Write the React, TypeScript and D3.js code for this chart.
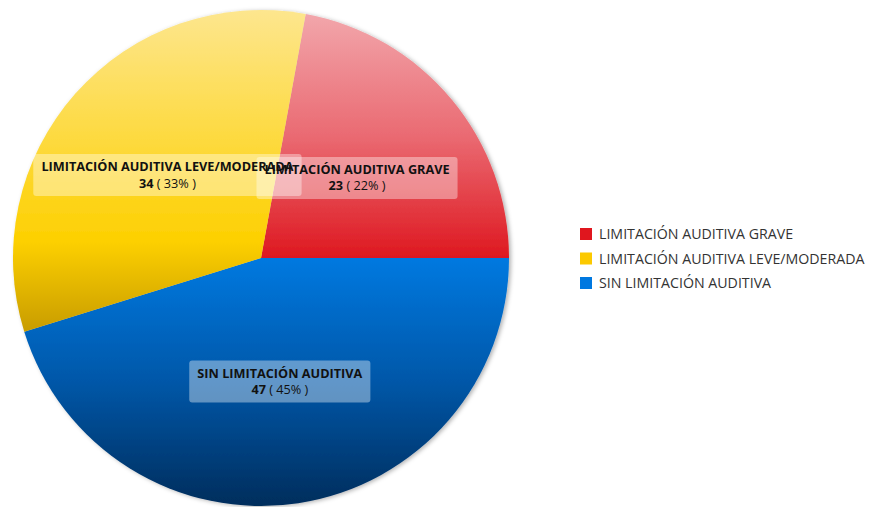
import React, { useEffect, useRef } from "react";
import * as d3 from "d3";

const categories = [
  "LIMITACIÓN AUDITIVA GRAVE",
  "SIN LIMITACIÓN AUDITIVA",
  "LIMITACIÓN AUDITIVA LEVE/MODERADA",
];
const values = [23, 47, 34];
const legendOrder = [0, 2, 1];
const gradients = [
  [["0", "#f2a6ab"], ["0.5", "#ea6a72"], ["1", "#de1820"]],
  [["0", "#0079e0"], ["0.5", "#0057a8"], ["1", "#002d5c"]],
  [["0", "#fde68e"], ["0.72", "#fdd000"], ["1", "#c89c00"]],
];
const legendColors = ["#e0161e", "#0078e0", "#fcc900"];

const W = 872;
const H = 507;
const CX = 261;
const CY = 258;
const R = 248;
const FONT = "'Open Sans', 'DejaVu Sans', sans-serif";

export default function App() {
  const ref = useRef<SVGSVGElement>(null);
  useEffect(() => {
    const svg = d3.select(ref.current);
    svg.selectAll("*").remove();
    const total = d3.sum(values);
    const start = Math.PI / 2 - (values[0] / total) * 2 * Math.PI;
    const pie = d3
      .pie<number>()
      .sort(null)
      .startAngle(start)
      .endAngle(start + 2 * Math.PI);
    const arcs = pie(values);
    const arc = d3.arc<d3.PieArcDatum<number>>().innerRadius(0).outerRadius(R);
    const labelArc = d3.arc<d3.PieArcDatum<number>>().innerRadius(0).outerRadius(250);

    const defs = svg.append("defs");
    gradients.forEach((stops, i) => {
      const g = defs
        .append("linearGradient")
        .attr("id", "g" + i)
        .attr("x1", 0)
        .attr("y1", 0)
        .attr("x2", 0)
        .attr("y2", 1);
      stops.forEach(([o, c]) => g.append("stop").attr("offset", o).attr("stop-color", c));
    });
    const f = defs.append("filter").attr("id", "sh").attr("x", "-10%").attr("y", "-10%").attr("width", "120%").attr("height", "120%");
    f.append("feDropShadow").attr("dx", 2).attr("dy", 1).attr("stdDeviation", 2).attr("flood-color", "#000").attr("flood-opacity", 0.3);

    const g = svg.append("g").attr("transform", `translate(${CX},${CY})`);
    const pg = g.append("g").attr("filter", "url(#sh)");
    pg.selectAll("path")
      .data(arcs)
      .join("path")
      .attr("d", arc)
      .attr("fill", (_, i) => `url(#g${i})`);

    const boxG = g.append("g");
    const textG = g.append("g");
    const drawOrder = [0, 1, 2];
    drawOrder.forEach((i) => {
      const a = arcs[i];
      const [x, y] = labelArc.centroid(a);
      const t = textG
        .append("text")
        .attr("font-family", FONT)
        .attr("font-size", 12.7)
        .attr("fill", "#111")
        .attr("text-anchor", "middle");
      t.append("tspan")
        .attr("x", x)
        .attr("y", y - 4)
        .attr("font-weight", "bold")
        .text(categories[i]);
      const l2 = t.append("tspan").attr("x", x).attr("y", y + 12.5);
      l2.append("tspan").attr("font-weight", "bold").text(String(values[i]));
      l2.append("tspan").text(` ( ${Math.round((values[i] / total) * 100)}% )`);
      const bb = (t.node() as SVGTextElement).getBBox();
      boxG
        .append("rect")
        .attr("x", x - bb.width / 2 - 8)
        .attr("y", y - 21)
        .attr("width", bb.width + 16)
        .attr("height", 42)
        .attr("rx", 3)
        .attr("fill", "#ffffff")
        .attr("fill-opacity", 0.38);
    });

    const leg = svg.append("g").attr("transform", "translate(580,234)");
    legendOrder.forEach((i, k) => {
      const row = leg.append("g").attr("transform", `translate(0,${k * 24.5})`);
      row.append("rect").attr("x", 0).attr("y", -6).attr("width", 12).attr("height", 12).attr("fill", legendColors[i]);
      row
        .append("text")
        .attr("x", 19)
        .attr("y", 5)
        .attr("font-family", FONT)
        .attr("font-size", 14.2)
        .attr("fill", "#333")
        .text(categories[i]);
    });
  }, []);
  return (
    <svg
      ref={ref}
      width={W}
      height={H}
      style={{ position: "absolute", left: 0, top: 0, display: "block", background: "#fff" }}
    />
  );
}
